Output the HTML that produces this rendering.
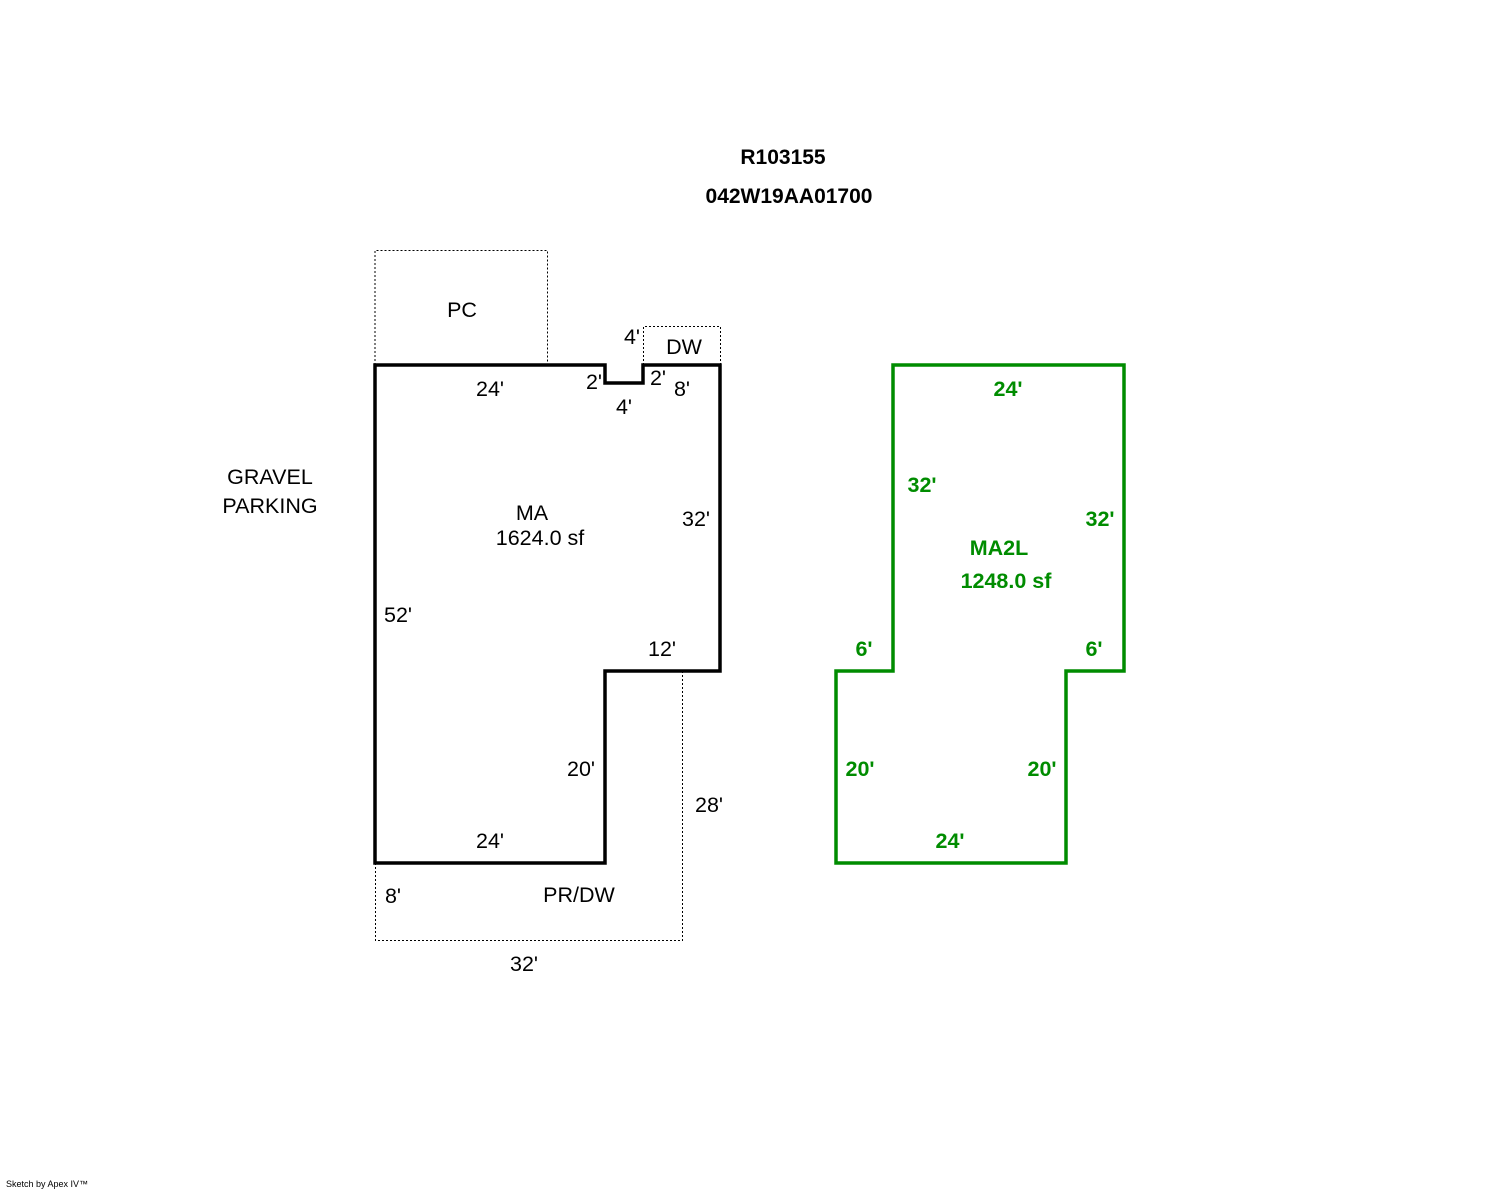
<!DOCTYPE html>
<html><head><style>
body{margin:0;background:#fff;}
svg{display:block}
text{font-family:"Liberation Sans",sans-serif;font-size:21.5px;}
.g{fill:#008c00;font-weight:bold;}
</style></head><body>
<svg width="1488" height="1190" viewBox="0 0 1488 1190">
<rect width="1488" height="1190" fill="#fff"/>
<text x="783" y="164" text-anchor="middle" font-weight="bold" style="font-size:21px">R103155</text>
<text x="789" y="203" text-anchor="middle" font-weight="bold" style="font-size:21px">042W19AA01700</text>
<g fill="none" stroke="#000" stroke-width="1" stroke-dasharray="2,2">
<polyline points="375,365 375,250.5 547.5,250.5 547.5,365"/>
<polyline points="643.5,365 643.5,326.5 720.5,326.5 720.5,365"/>
<polyline points="682.5,671 682.5,940.5 375.5,940.5 375.5,863"/>
</g>
<polygon points="375,365 605,365 605,383 643,383 643,365 720,365 720,671 605,671 605,863 375,863" fill="none" stroke="#000" stroke-width="3.5"/>
<polygon points="893,365 1124,365 1124,671 1066,671 1066,863 836,863 836,671 893,671" fill="none" stroke="#008c00" stroke-width="3.5"/>
<text x="462" y="317" text-anchor="middle">PC</text>
<text x="684" y="354" text-anchor="middle">DW</text>
<text x="632" y="344" text-anchor="middle">4'</text>
<text x="490" y="396" text-anchor="middle">24'</text>
<text x="594" y="389" text-anchor="middle">2'</text>
<text x="658" y="385" text-anchor="middle">2'</text>
<text x="682" y="396" text-anchor="middle">8'</text>
<text x="624" y="414" text-anchor="middle">4'</text>
<text x="270" y="484" text-anchor="middle">GRAVEL</text>
<text x="270" y="513" text-anchor="middle">PARKING</text>
<text x="532" y="520" text-anchor="middle">MA</text>
<text x="540" y="545" text-anchor="middle">1624.0 sf</text>
<text x="696" y="526" text-anchor="middle">32'</text>
<text x="398" y="622" text-anchor="middle">52'</text>
<text x="662" y="656" text-anchor="middle">12'</text>
<text x="581" y="776" text-anchor="middle">20'</text>
<text x="709" y="812" text-anchor="middle">28'</text>
<text x="490" y="848" text-anchor="middle">24'</text>
<text x="393" y="903" text-anchor="middle">8'</text>
<text x="579" y="902" text-anchor="middle">PR/DW</text>
<text x="524" y="971" text-anchor="middle">32'</text>
<text class="g" x="1008" y="396" text-anchor="middle">24'</text>
<text class="g" x="922" y="492" text-anchor="middle">32'</text>
<text class="g" x="1100" y="526" text-anchor="middle">32'</text>
<text class="g" x="999" y="555" text-anchor="middle">MA2L</text>
<text class="g" x="1006" y="588" text-anchor="middle">1248.0 sf</text>
<text class="g" x="864" y="656" text-anchor="middle">6'</text>
<text class="g" x="1094" y="656" text-anchor="middle">6'</text>
<text class="g" x="860" y="776" text-anchor="middle">20'</text>
<text class="g" x="1042" y="776" text-anchor="middle">20'</text>
<text class="g" x="950" y="848" text-anchor="middle">24'</text>
<text x="6" y="1187" style="font-size:9px">Sketch by Apex IV™</text>
</svg>
</body></html>
